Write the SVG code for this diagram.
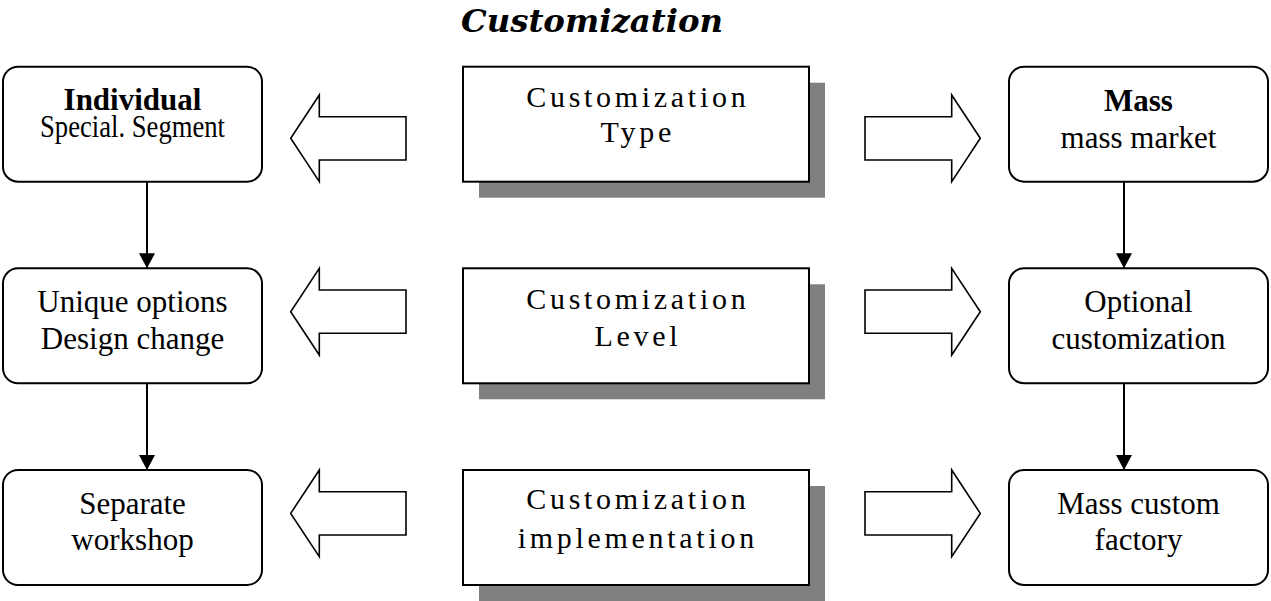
<svg xmlns="http://www.w3.org/2000/svg" width="1271" height="601" viewBox="0 0 1271 601">
<defs>
<style>
.bg{fill:#ffffff}
.node{fill:#ffffff;stroke:#000000;stroke-width:2}
.shadow{fill:#808080;stroke:none}
.blk{fill:#ffffff;stroke:#000000;stroke-width:1.6;stroke-linejoin:miter}
.t{font-family:"Liberation Serif","Times New Roman",serif;font-size:31px;fill:#000000;text-anchor:middle}
.b{font-weight:bold}
.c{font-family:"Liberation Serif","Times New Roman",serif;font-size:30px;letter-spacing:3.7px;fill:#000000;text-anchor:middle}
.title{font-family:"DejaVu Serif","Liberation Serif",serif;font-size:31px;font-weight:bold;font-style:italic;fill:#000000}
.conn{stroke:#000000;stroke-width:2;fill:none}
</style>
<marker id="ah" markerWidth="16" markerHeight="16" viewBox="0 0 16 16" refX="15" refY="8" orient="auto" markerUnits="userSpaceOnUse">
<path d="M0,0 L15,8 L0,16 Z" fill="#000000"/>
</marker>
</defs>
<rect class="bg" x="0" y="0" width="1271" height="601"/>

<g id="title">
<text class="title" x="461" y="32" textLength="262" lengthAdjust="spacingAndGlyphs">Customization</text>
</g>

<!-- Left column -->
<g id="individual">
<rect class="node" x="3" y="66.7" width="259" height="115" rx="15" ry="15"/>
<text class="t b" x="132.5" y="110">Individual</text>
<text class="t" x="132.5" y="137" textLength="185" lengthAdjust="spacingAndGlyphs" font-size="29">Special. Segment</text>
</g>
<g id="unique">
<rect class="node" x="3" y="268.3" width="259" height="115" rx="15" ry="15"/>
<text class="t" x="132.5" y="312">Unique options</text>
<text class="t" x="132.5" y="349">Design change</text>
</g>
<g id="separate">
<rect class="node" x="3" y="470" width="259" height="115" rx="15" ry="15"/>
<text class="t" x="132.5" y="514">Separate</text>
<text class="t" x="132.5" y="550">workshop</text>
</g>

<!-- Center column -->
<g id="type">
<rect class="shadow" x="479" y="82.7" width="346" height="115"/>
<rect class="node" x="463" y="66.7" width="346" height="115"/>
<text class="c" x="637.8" y="106.7">Customization</text>
<text class="c" x="637.8" y="142">Type</text>
</g>
<g id="level">
<rect class="shadow" x="479" y="284.3" width="346" height="115"/>
<rect class="node" x="463" y="268.3" width="346" height="115"/>
<text class="c" x="637.8" y="309.3">Customization</text>
<text class="c" x="637.8" y="346">Level</text>
</g>
<g id="implementation">
<rect class="shadow" x="479" y="486" width="346" height="115"/>
<rect class="node" x="463" y="470" width="346" height="115"/>
<text class="c" x="637.8" y="509.3">Customization</text>
<text class="c" x="637.8" y="548.3">implementation</text>
</g>

<!-- Right column -->
<g id="mass">
<rect class="node" x="1009" y="66.7" width="259" height="115" rx="15" ry="15"/>
<text class="t b" x="1138.5" y="111">Mass</text>
<text class="t" x="1138.5" y="148">mass market</text>
</g>
<g id="optional">
<rect class="node" x="1009" y="268.3" width="259" height="115" rx="15" ry="15"/>
<text class="t" x="1138.5" y="312">Optional</text>
<text class="t" x="1138.5" y="349">customization</text>
</g>
<g id="factory">
<rect class="node" x="1009" y="470" width="259" height="115" rx="15" ry="15"/>
<text class="t" x="1138.5" y="514">Mass custom</text>
<text class="t" x="1138.5" y="550">factory</text>
</g>

<!-- Block arrows -->
<g id="block-arrows">
<polygon class="blk" points="406,116.7 319.3,116.7 319.3,95 290.7,138.3 319.3,181.7 319.3,160 406,160"/>
<polygon class="blk" points="865,116.7 951.7,116.7 951.7,95 980.3,138.3 951.7,181.7 951.7,160 865,160"/>
<polygon class="blk" points="406,290 319.3,290 319.3,268.3 290.7,311.7 319.3,355 319.3,333.3 406,333.3"/>
<polygon class="blk" points="865,290 951.7,290 951.7,268.3 980.3,311.7 951.7,355 951.7,333.3 865,333.3"/>
<polygon class="blk" points="406,491.7 319.3,491.7 319.3,470 290.7,513.4 319.3,556.7 319.3,535 406,535"/>
<polygon class="blk" points="865,491.7 951.7,491.7 951.7,470 980.3,513.4 951.7,556.7 951.7,535 865,535"/>
</g>

<!-- Connectors -->
<g id="connectors">
<line class="conn" x1="147" y1="181.7" x2="147" y2="268.3" marker-end="url(#ah)"/>
<line class="conn" x1="147" y1="383.3" x2="147" y2="470" marker-end="url(#ah)"/>
<line class="conn" x1="1124" y1="181.7" x2="1124" y2="268.3" marker-end="url(#ah)"/>
<line class="conn" x1="1124" y1="383.3" x2="1124" y2="470" marker-end="url(#ah)"/>
</g>
</svg>
